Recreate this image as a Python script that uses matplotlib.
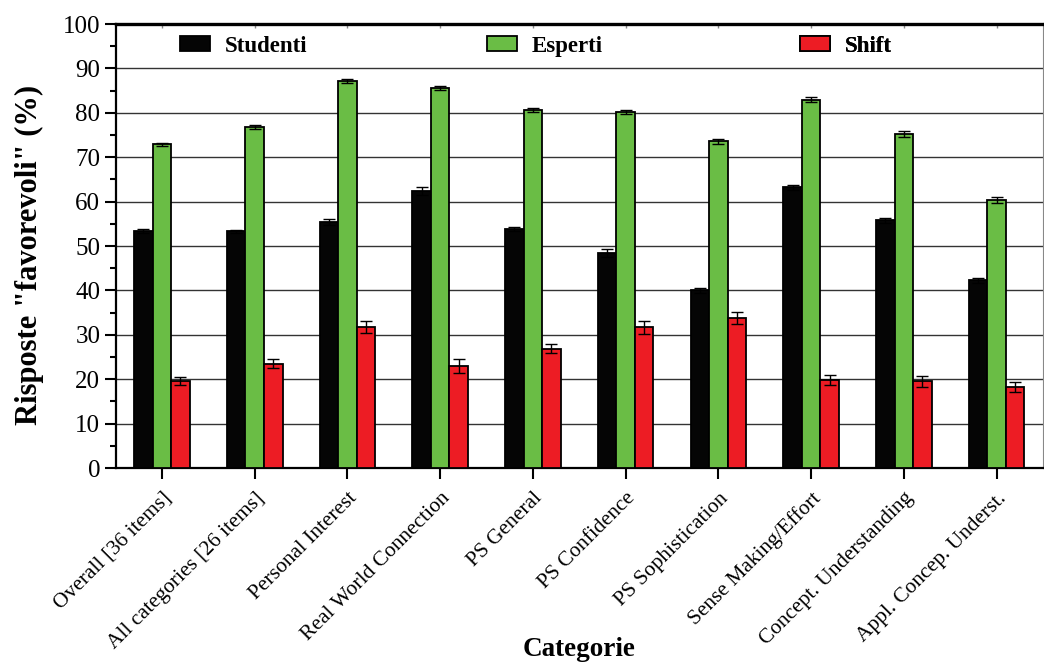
import numpy as np
import matplotlib
matplotlib.use("Agg")
import matplotlib.pyplot as plt
from matplotlib.ticker import MultipleLocator
from matplotlib.patches import Patch

categories = [
    "Overall [36 items]",
    "All categories [26 items]",
    "Personal Interest",
    "Real World Connection",
    "PS General",
    "PS Confidence",
    "PS Sophistication",
    "Sense Making/Effort",
    "Concept. Understanding",
    "Appl. Concep. Underst.",
]

studenti = [53.4, 53.3, 55.4, 62.4, 53.8, 48.4, 40.0, 63.2, 55.8, 42.3]
studenti_err = [0.4, 0.3, 0.7, 0.85, 0.5, 0.85, 0.55, 0.6, 0.6, 0.6]

esperti = [72.9, 76.7, 87.1, 85.6, 80.6, 80.2, 73.6, 83.0, 75.2, 60.4]
esperti_err = [0.3, 0.45, 0.45, 0.5, 0.45, 0.5, 0.6, 0.55, 0.6, 0.6]

shift = [19.5, 23.5, 31.7, 23.0, 26.9, 31.7, 33.8, 19.8, 19.5, 18.2]
shift_err = [0.9, 1.0, 1.35, 1.6, 1.1, 1.4, 1.4, 1.2, 1.25, 1.1]

series_names = ["Studenti", "Esperti", "Shift"]
series_colors = ["#050505", "#6abd45", "#ed1c24"]

plt.rcParams["font.family"] = ["Liberation Serif", "DejaVu Serif"]

fig = plt.figure(figsize=(10.44, 6.62), dpi=100)
ax = fig.add_axes([0.1107, 0.293, 0.8883, 0.6707])

x = np.arange(len(categories))
w = 0.2
for k, (vals, errs, name, col) in enumerate(
        zip([studenti, esperti, shift],
            [studenti_err, esperti_err, shift_err],
            series_names, series_colors)):
    ax.bar(x + (k - 1) * w, vals, width=w, color=col, edgecolor="black",
           linewidth=1.3, label=name, zorder=3)
    ax.errorbar(x + (k - 1) * w, vals, yerr=errs, fmt="none", ecolor="black",
                elinewidth=1.0, capsize=4.5, capthick=1.0, zorder=4)

ax.set_xlim(-0.5, 9.5)
ax.set_ylim(0, 100)
ax.yaxis.set_major_locator(MultipleLocator(10))
ax.yaxis.set_minor_locator(MultipleLocator(5))
ax.grid(axis="y", which="major", color="#333333", linewidth=1.0, zorder=0)
ax.set_axisbelow(True)

ax.set_xticks(x)
ax.set_xticklabels(categories, rotation=45, ha="right", rotation_mode="anchor",
                   fontsize=15.4)
ax.tick_params(axis="x", which="major", direction="out", length=8, width=1.5,
               pad=7)
ax.tick_params(axis="y", which="major", direction="out", length=8, width=1.5,
               labelsize=18, pad=3)
ax.tick_params(axis="y", which="minor", direction="out", length=4, width=1.5)
ax.tick_params(axis="y", which="both", right=True)
ax.tick_params(axis="y", which="both", labelright=False)

for side in ["left", "bottom"]:
    ax.spines[side].set_linewidth(1.6)
ax.spines["top"].set_linewidth(2.4)
ax.spines["right"].set_linewidth(0.8)
ax.spines["right"].set_color("#888888")

top = ax.secondary_xaxis("top")
top.set_xticks(x)
top.set_xticklabels([])
top.tick_params(direction="in", length=3, width=1, color="#888888")
top.spines["top"].set_visible(False)

ax.set_ylabel('Risposte "favorevoli" (%)', fontsize=22, fontweight="bold")
ax.yaxis.set_label_coords(-0.0775, 0.48)
ax.set_xlabel("Categorie", fontsize=19.5, fontweight="bold")
ax.xaxis.set_label_coords(0.5, -0.38)

# one legend entry per series, spread across the top band
legend_x = [0.0695, 0.4006, 0.7383]
for name, col, lx in zip(series_names, series_colors, legend_x):
    leg = ax.legend(handles=[Patch(facecolor=col, edgecolor="black",
                                   linewidth=1.3)],
                    labels=[name], loc="center left",
                    bbox_to_anchor=(lx, 0.95), frameon=False,
                    prop={"weight": "bold", "size": 16.5},
                    handlelength=1.3, handleheight=0.65, handletextpad=0.65,
                    borderpad=0, borderaxespad=0)
    ax.add_artist(leg)

fig.savefig("out.png", dpi=100)
